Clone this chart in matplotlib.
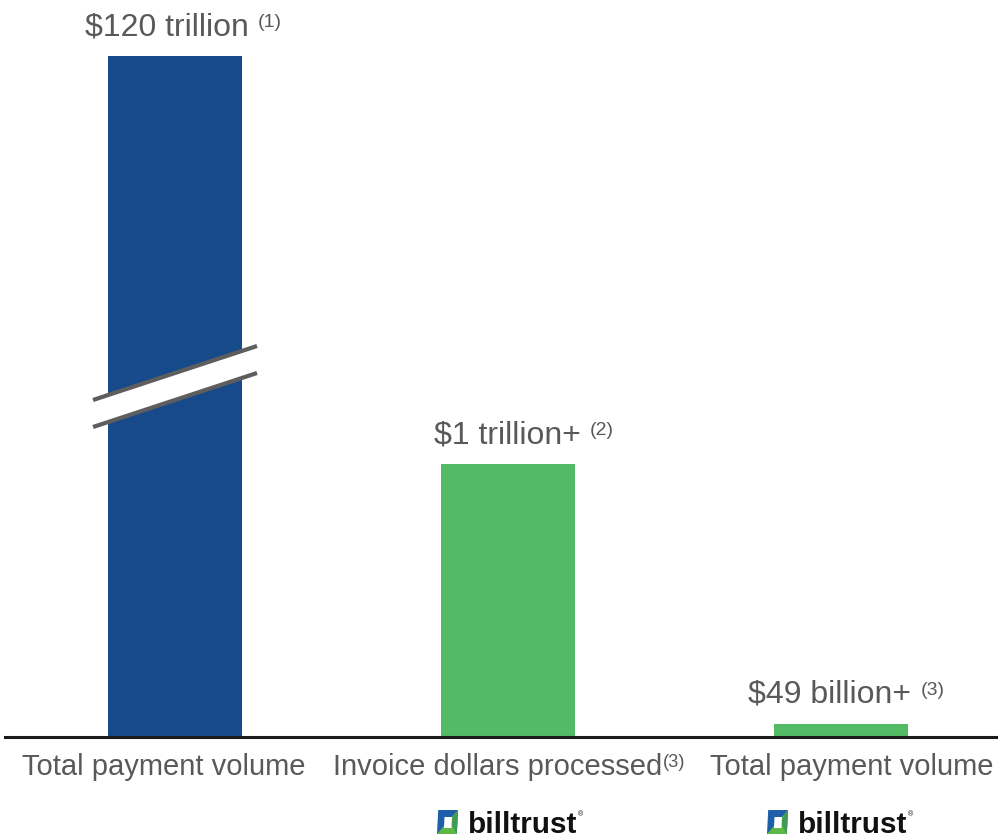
import numpy as np
import matplotlib
matplotlib.use("Agg")
import matplotlib.pyplot as plt
from matplotlib import font_manager
from matplotlib.patches import Polygon

# ---- data (values in billions of US dollars) ----
categories = ["Total payment volume", "Invoice dollars processed", "Total payment volume"]
category_notes = ["", "(3)", ""]
values_bn = [120000, 1000, 49]
value_labels = ["$120 trillion", "$1 trillion+", "$49 billion+"]
value_notes = ["(1)", "(2)", "(3)"]
brand_under = [False, True, True]
brand_name = "billtrust"

# ---- style ----
BLUE = "#174A8B"
GREEN = "#53BB65"
TEXT = "#595959"
BREAK = "#5E5E5E"
W, H = 998, 840
DPI = 100
PX = 72.0 / DPI  # points per pixel

def has_font(name):
    try:
        font_manager.findfont(font_manager.FontProperties(family=name), fallback_to_default=False)
        return True
    except Exception:
        return False

REG = ["Liberation Sans", "DejaVu Sans"]
if has_font("Liberation Sans Narrow"):
    NARROW, nscale = ["Liberation Sans Narrow", "Liberation Sans", "DejaVu Sans"], 1.0
else:
    NARROW, nscale = REG, 0.82

fig = plt.figure(figsize=(W / DPI, H / DPI), dpi=DPI)
fig.patch.set_facecolor("white")

def fx(px):
    return px / W

def fy(py):
    return 1 - py / H

# axes: baseline sits at pixel row 737, 333 px between bar centres
ax = fig.add_axes([fx(5), fy(737), fx(993), 737 / H])
px_per_bn = 0.273
axis_cap = 737 / px_per_bn
broken_height = 681 / px_per_bn  # drawn height of the clipped bar
ax.set_xlim((5 - 175) / 333, (998 - 175) / 333)
ax.set_ylim(0, axis_cap)
ax.axis("off")

x = np.arange(len(values_bn))
shown = np.minimum(values_bn, broken_height)
colors = [BLUE if not b else GREEN for b in brand_under]
ax.bar(x, shown, width=134 / 333, color=colors, zorder=2)

# baseline
ax.axhline(0, color="#1a1a1a", lw=2.2, zorder=3, clip_on=False)

# axis-break marks across the clipped bar
def ypix(py):
    return (737 - py) / px_per_bn

def xpix(px):
    return (px - 175) / 333

gap_poly = Polygon([(xpix(93), ypix(400)), (xpix(257), ypix(346)),
                    (xpix(257), ypix(373)), (xpix(93), ypix(427))],
                   closed=True, facecolor="white", edgecolor="none", zorder=4,
                   clip_on=False)
ax.add_patch(gap_poly)
for y0, y1 in [(400, 346), (427, 373)]:
    ax.plot([xpix(93), xpix(257)], [ypix(y0), ypix(y1)], color=BREAK, lw=3.0,
            solid_capstyle="butt", zorder=5, clip_on=False)

# value labels above the bars, with footnote markers
label_dx_px = [-8, -1, -11]
for i, (lab, note) in enumerate(zip(value_labels, value_notes)):
    t = ax.annotate(lab, xy=(x[i], shown[i]), xytext=(label_dx_px[i] * PX, 21 * PX),
                    textcoords="offset points", ha="center", va="baseline",
                    fontsize=23, color=TEXT, family=REG, zorder=6)
    ax.annotate(note, xy=(1, 1), xycoords=t, xytext=(9 * PX, -2 * PX),
                textcoords="offset points", ha="left", va="top",
                fontsize=14, color=TEXT, family=REG)

# category labels under the baseline
cat_left_px = [22, 333, 710]
for i, (cat, note) in enumerate(zip(categories, category_notes)):
    t = fig.text(fx(cat_left_px[i]), fy(775), cat, ha="left", va="baseline",
                 fontsize=25.6 * nscale, color=TEXT, family=NARROW)
    if note:
        ax.annotate(note, xy=(1, 1), xycoords=t, xytext=(1 * PX, -1 * PX),
                    textcoords="offset points", ha="left", va="top",
                    fontsize=16 * nscale, color=TEXT, family=NARROW)

# brand marks
def draw_logo(left_px, base_px):
    la = fig.add_axes([fx(left_px), fy(base_px), fx(26), 28 / H])
    la.set_xlim(0, 26)
    la.set_ylim(0, 28)
    la.axis("off")
    # square ring: blue upper-left half, green lower-right half
    outer = [(1, 3), (2.2, 27), (22, 27), (20.8, 3)]
    la.add_patch(Polygon(outer, closed=True, facecolor="#1F5FAA", edgecolor="none"))
    la.add_patch(Polygon([(1, 3), (20.8, 3), (22, 27)], closed=True,
                         facecolor="#5DB845", edgecolor="none"))
    la.add_patch(Polygon([(14, 15), (20.8, 3), (22, 27)], closed=True,
                         facecolor="#3F9A55", edgecolor="none"))
    inner = [(8, 9), (8.5, 20), (16, 20), (15.5, 9)]
    la.add_patch(Polygon(inner, closed=True, facecolor="white", edgecolor="none"))
    t = fig.text(fx(left_px + 32), fy(base_px - 4), brand_name, ha="left",
                 va="baseline", fontsize=26 * nscale, fontweight="heavy",
                 color="#111111", family=NARROW)
    ax.annotate("®", xy=(1, 1), xycoords=t, xytext=(1 * PX, 0),
                textcoords="offset points", ha="left", va="top",
                fontsize=5, color="#111111", family=REG)

logo_left_px = [None, 436, 766]
for i, b in enumerate(brand_under):
    if b:
        draw_logo(logo_left_px[i], 837)

fig.savefig("out.png", dpi=DPI, facecolor="white")
